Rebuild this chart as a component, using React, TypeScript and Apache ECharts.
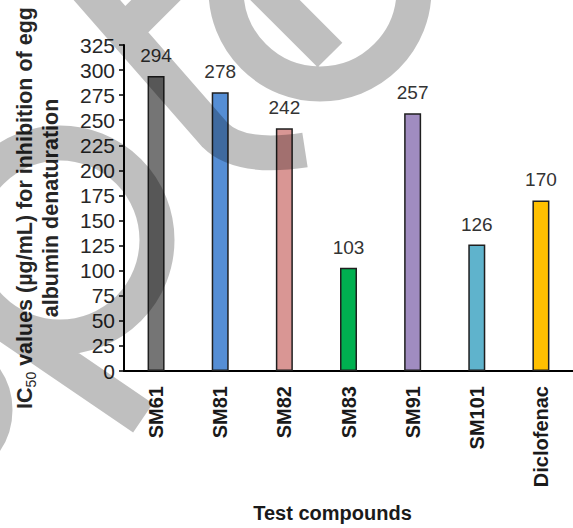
import React, { useEffect, useRef } from "react";
import * as echarts from "echarts";

const categories = ["SM61", "SM81", "SM82", "SM83", "SM91", "SM101", "Diclofenac"];
const ic50Values = [294, 278, 242, 103, 257, 126, 170];
const barColors = ["#757575", "#558ed5", "#d99694", "#00b050", "#a08cc0", "#5fb3cc", "#ffc000"];
const yMin = 0;
const yMax = 325;
const yInterval = 25;

const FONT = "'Liberation Sans', Arial, 'DejaVu Sans', sans-serif";

const WATERMARK_D = [
  "M 75 -25 L 215 135 Q 240 160 305 150",
  "M 122 34 L 176 -20",
  "M 255 -20 L 330 55",
  "M 226 -10 A 94 94 0 1 0 414 -10 A 94 94 0 1 0 226 -10 Z",
  "M -37 240 A 97 97 0 1 0 157 240 A 97 97 0 1 0 -37 240 Z",
  "M -30 300 L 143 418",
  "M -115 410 A 55 55 0 1 0 -5 410 A 55 55 0 1 0 -115 410 Z",
].join(" ");

let registered = false;

export default function App() {
  const ref = useRef<HTMLDivElement>(null);

  useEffect(() => {
    if (!ref.current) return;
    if (!registered) {
      echarts.graphic.registerShape("wm", echarts.graphic.extendPath(WATERMARK_D, {}));
      registered = true;
    }
    const chart = echarts.init(ref.current, null, { renderer: "svg" });
    const option = {
      animation: false,
      backgroundColor: "#ffffff",
      grid: { left: 124, top: 45, width: 458, height: 337 },
      xAxis: {
        type: "category",
        data: categories,
        name: "Test compounds",
        nameLocation: "middle",
        nameGap: 132,
        nameTextStyle: {
          fontFamily: FONT,
          fontSize: 20,
          fontWeight: "bold",
          color: "#1a1a1a",
          padding: [0, 32, 0, 0],
        },
        axisLine: { lineStyle: { color: "#000000", width: 2 } },
        axisTick: { show: false },
        axisLabel: {
          rotate: 90,
          interval: 0,
          margin: 15,
          fontFamily: FONT,
          fontSize: 20,
          fontWeight: "bold",
          color: "#1a1a1a",
        },
      },
      yAxis: {
        type: "value",
        min: yMin,
        max: yMax,
        interval: yInterval,
        name:
          "{a|IC}{s|50}{a| values (µg/mL) for inhibition of egg}\n{a|albumin denaturation}",
        nameLocation: "middle",
        nameGap: 60,
        nameTextStyle: {
          rich: {
            a: {
              fontFamily: FONT,
              fontSize: 21.5,
              fontWeight: "bold",
              color: "#262626",
              lineHeight: 26,
            },
            s: {
              fontFamily: FONT,
              fontSize: 14,
              fontWeight: "normal",
              color: "#262626",
              padding: [12, 0, 0, 0],
            },
          },
        },
        splitLine: { show: false },
        axisLine: { show: true, lineStyle: { color: "#000000", width: 2 } },
        axisTick: { show: true, length: 5, lineStyle: { color: "#000000", width: 1.5 } },
        axisLabel: {
          margin: 9,
          fontFamily: FONT,
          fontSize: 21,
          color: "#262626",
        },
      },
      series: [
        {
          type: "bar",
          barWidth: 17,
          data: ic50Values.map((v, i) => ({
            value: v,
            itemStyle: { color: barColors[i] },
          })),
          itemStyle: { borderColor: "#1f1f1f", borderWidth: 1.5 },
          label: {
            show: true,
            position: "top",
            distance: 11,
            fontFamily: FONT,
            fontSize: 19,
            color: "#333333",
          },
        },
      ],
      graphic: [
        {
          type: "wm",
          x: 0,
          y: 0,
          z: 100,
          silent: true,
          style: {
            fill: "none",
            stroke: "rgba(0,0,0,0.25)",
            lineWidth: 35,
            lineJoin: "round",
          },
        },
      ],
    };
    chart.setOption(option as any);
    return () => chart.dispose();
  }, []);

  return (
    <div
      ref={ref}
      style={{ position: "fixed", left: 0, top: 0, width: 573, height: 528 }}
    />
  );
}
